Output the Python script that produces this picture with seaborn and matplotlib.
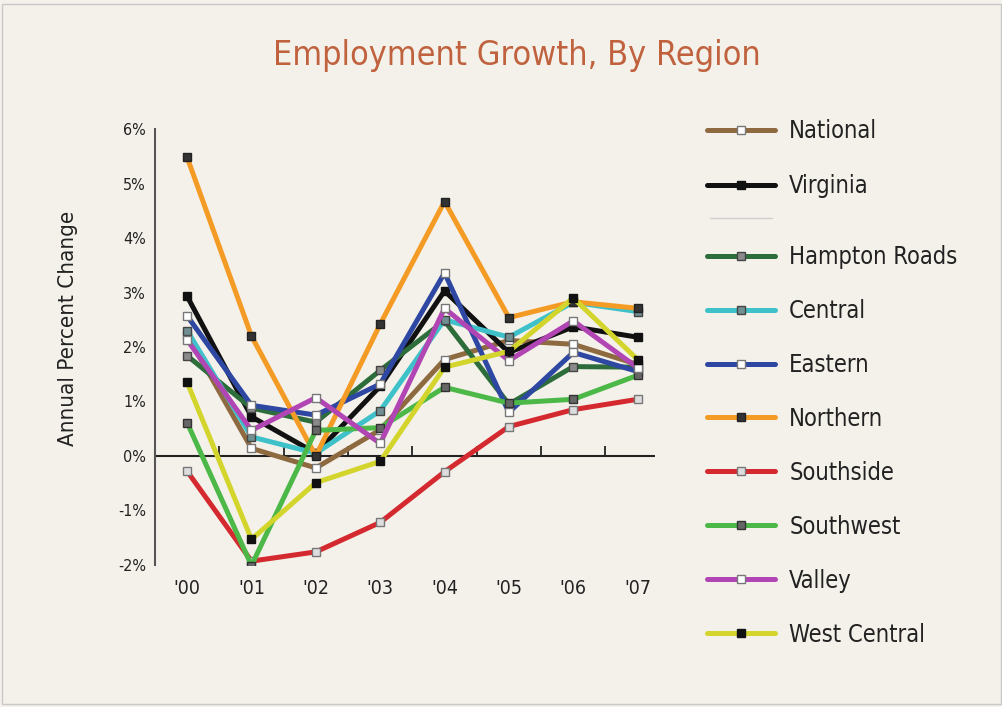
import numpy as np
import matplotlib
matplotlib.use("Agg")
import matplotlib.pyplot as plt
from matplotlib.lines import Line2D
from matplotlib.patches import Rectangle
import seaborn as sns

# Annual percent change in employment, 2000-2007
years = ["'00", "'01", "'02", "'03", "'04", "'05", "'06", "'07"]
national = [2.22, 0.14, -0.22, 0.48, 1.77, 2.12, 2.05, 1.68]
virginia = [2.93, 0.72, 0.05, 1.28, 3.03, 1.90, 2.37, 2.18]
hampton_roads = [1.84, 0.88, 0.62, 1.57, 2.48, 0.95, 1.64, 1.63]
central = [2.30, 0.35, 0.05, 0.83, 2.50, 2.18, 2.82, 2.65]
eastern = [2.57, 0.93, 0.75, 1.32, 3.36, 0.80, 1.90, 1.55]
northern = [5.48, 2.20, 0.00, 2.42, 4.67, 2.54, 2.83, 2.71]
southside = [-0.28, -1.93, -1.76, -1.22, -0.29, 0.54, 0.85, 1.04]
southwest = [0.61, -2.01, 0.47, 0.52, 1.26, 0.97, 1.04, 1.48]
valley = [2.13, 0.47, 1.07, 0.23, 2.71, 1.75, 2.48, 1.62]
west_central = [1.35, -1.53, -0.49, -0.10, 1.63, 1.92, 2.90, 1.77]

y_ticks = [-2, -1, 0, 1, 2, 3, 4, 5, 6]

# name, values, line colour, marker face, marker edge
benchmarks = [
    ("National", national, "#8e6a40", "#ffffff", "#777777"),
    ("Virginia", virginia, "#111111", "#111111", "#111111"),
]
regions = [
    ("Hampton Roads", hampton_roads, "#2c6d3b", "#8a8a8a", "#444444"),
    ("Central", central, "#3fc1ca", "#6f8f92", "#444444"),
    ("Eastern", eastern, "#2e47a3", "#ffffff", "#777777"),
    ("Northern", northern, "#f49b25", "#333333", "#222222"),
    ("Southside", southside, "#d42a2f", "#dddddd", "#777777"),
    ("Southwest", southwest, "#4cb848", "#666666", "#333333"),
    ("Valley", valley, "#b145b4", "#ffffff", "#777777"),
    ("West Central", west_central, "#d3d52c", "#111111", "#111111"),
]

sns.set_theme(style="white")
plt.rcParams["font.family"] = ["DejaVu Sans"]
plt.rcParams["font.stretch"] = "condensed"

bg = "#f4f1ea"
fig = plt.figure(figsize=(10.03, 7.07), dpi=100)
fig.patch.set_facecolor(bg)
ax = fig.add_axes([0.1545, 0.2009, 0.4985, 0.6166])
ax.set_facecolor(bg)

x = np.arange(len(years))
style = dict(lw=3.6, marker="s", ms=5.8, markeredgewidth=1.0)


def draw(group):
    handles, labels = [], []
    for name, vals, color, mfc, mec in group:
        sns.lineplot(x=x, y=vals, ax=ax, color=color, markerfacecolor=mfc,
                     markeredgecolor=mec, zorder=3, **style)
        handles.append(Line2D([0], [0], color=color, markerfacecolor=mfc,
                              markeredgecolor=mec, **style))
        labels.append(name)
    return handles, labels


h1, l1 = draw(benchmarks)
h2, l2 = draw(regions)

ax.set_xlim(-0.5, 7.27)
ax.set_ylim(-2, 6)
for side in ("top", "right", "bottom"):
    ax.spines[side].set_visible(False)
ax.spines["left"].set_color("#555555")
ax.spines["left"].set_linewidth(1.5)

ax.set_yticks(y_ticks)
ax.set_yticklabels([f"{v}%" for v in y_ticks])
ax.tick_params(axis="y", direction="in", length=13, width=1.5, color="#555555",
               pad=6.5, labelsize=11.5, labelcolor="#222222")
ax.set_xticks(x)
ax.set_xticklabels(years)
ax.tick_params(axis="x", length=0, pad=10, labelsize=14, labelcolor="#222222")

# zero line with small upward ticks between the years
ax.axhline(0, color="#222222", lw=1.5, zorder=2)
ax.vlines(x[:-1] + 0.5, 0, 0.18, color="#222222", lw=1.3, zorder=2)

fig.text(68 / 1003, 1 - 328 / 707, "Annual Percent Change", rotation=90,
         ha="center", va="center", fontsize=16, color="#222222")
fig.text(517 / 1003, 1 - 55 / 707, "Employment Growth, By Region",
         ha="center", va="center", fontsize=24.5, color="#c0623e")

leg_kw = dict(loc="upper left", bbox_transform=fig.transFigure, frameon=False,
              fontsize=17, handlelength=2.88, handletextpad=0.6,
              borderaxespad=0)
leg1 = ax.legend(h1, l1, bbox_to_anchor=(0.6955, 0.8453), labelspacing=1.33,
                 **leg_kw)
ax.add_artist(leg1)
leg2 = ax.legend(h2, l2, bbox_to_anchor=(0.6955, 0.6671), labelspacing=1.27,
                 **leg_kw)
for leg in (leg1, leg2):
    for t in leg.get_texts():
        t.set_color("#222222")

# thin rule separating the state-level lines from the regions
fig.add_artist(Line2D([710 / 1003, 772 / 1003], [1 - 218 / 707] * 2,
                      transform=fig.transFigure, color="#cfcfcf", lw=1.0))

fig.add_artist(Rectangle((0.002, 0.004), 0.996, 0.99, transform=fig.transFigure,
                         fill=False, ec="#c8c8c8", lw=1))

fig.savefig("out.png", dpi=100, facecolor=bg)
